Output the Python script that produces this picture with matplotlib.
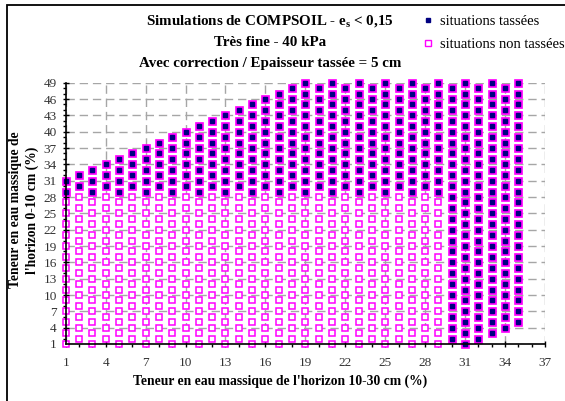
import matplotlib
matplotlib.use('Agg')
import matplotlib.pyplot as plt
from matplotlib.lines import Line2D
from matplotlib.patches import Rectangle

plt.rcParams['font.family'] = ['Liberation Serif', 'DejaVu Serif']

# one column of simulated points per value of the 10-30 cm water content
col_x = list(range(1, 36))
col_bottom = [1, 2, 1, 2, 1, 2, 1, 2, 1, 2, 1, 2, 1, 2, 1, 2, 1, 2,
              1, 2, 1, 2, 1, 2, 1, 2, 1, 2, 1, 2, 1, 2, 3, 4, 5]
col_top = [31, 32, 33, 34, 35, 36, 37, 38, 39, 40, 41, 42, 43, 44, 45, 46, 47, 48,
           49, 48, 49, 48, 49, 48, 49, 48, 49, 48, 49, 48, 49, 48, 49, 48, 49]
# first (lowest) point of each column that is "tassée"
col_first_tassee = [29, 30, 29, 30, 29, 30, 29, 30, 29, 30, 29, 30, 29, 30, 29, 30, 29, 30,
                    29, 30, 29, 30, 29, 30, 29, 30, 29, 30, 29, 2, 1, 2, 3, 4, 5]

x_ticks = list(range(1, 38, 3))
y_ticks = list(range(1, 50, 3))

tx, ty, nx, ny = [], [], [], []
for x, lo, hi, ft in zip(col_x, col_bottom, col_top, col_first_tassee):
    for y in range(lo, hi + 1, 2):
        if y >= ft:
            tx.append(x)
            ty.append(y)
        else:
            nx.append(x)
            ny.append(y)

fig = plt.figure(figsize=(5.65, 4.01), dpi=100)
ax = fig.add_axes([65.7 / 565, 1 - 344 / 401, (545 - 65.7) / 565, (344 - 82.7) / 401])

ax.plot(nx, ny, linestyle='none', marker='s', markersize=5, markerfacecolor='white',
        markeredgecolor='#ff00ff', markeredgewidth=1.1, clip_on=False, zorder=3)
ax.plot(tx, ty, linestyle='none', marker='s', markersize=5.4, markerfacecolor='#ff00ff',
        markeredgecolor='#ff00ff', markeredgewidth=0.5, clip_on=False, zorder=3)
ax.plot(tx, ty, linestyle='none', marker='s', markersize=2.6, color='#000080',
        clip_on=False, zorder=4)

ax.set_xlim(1, 37)
ax.set_ylim(1, 49)
ax.set_xticks(x_ticks)
ax.set_yticks(y_ticks)
ax.set_xticks(range(1, 38), minor=True)
ax.set_yticks(range(1, 50), minor=True)
ax.tick_params(which='major', direction='inout', length=5, width=1, labelsize=9.5,
               colors='black', labelcolor='#333333')
ax.tick_params(which='minor', direction='out', length=2.5, width=1, colors='black')
ax.tick_params(axis='x', which='major', pad=7)
ax.tick_params(axis='y', which='major', pad=4)

ax.grid(True, which='major', color='#a6a6a6', linestyle=(0, (6, 3.5)), linewidth=1)
ax.set_axisbelow(True)
for s in ['top', 'right']:
    ax.spines[s].set_visible(False)
for s in ['left', 'bottom']:
    ax.spines[s].set_linewidth(1.2)
    ax.spines[s].set_zorder(5)

# titles
fig.text(270 / 565, 1 - 22 / 401, 'Simulations de COMPSOIL - e$_\\mathregular{s}$ < 0,15',
         ha='center', va='center', fontsize=10.8, fontweight='bold')
fig.text(270 / 565, 1 - 43 / 401, 'Très fine - 40 kPa',
         ha='center', va='center', fontsize=10.8, fontweight='bold')
fig.text(270 / 565, 1 - 64 / 401, 'Avec correction / Epaisseur tassée = 5 cm',
         ha='center', va='center', fontsize=10.8, fontweight='bold')

fig.text(280 / 565, 1 - 381 / 401, "Teneur en eau massique de l'horizon 10-30 cm (%)",
         ha='center', va='center', fontsize=9.8, fontweight='bold')
fig.text(24 / 565, 1 - 210 / 401, "Teneur en eau massique de\nl'horizon 0-10 cm (%)",
         ha='center', va='center', rotation=90, fontsize=9.8, fontweight='bold',
         multialignment='center', linespacing=1.25)

handles = [
    Line2D([], [], linestyle='none', marker='s', markersize=2.6, color='#000080'),
    Line2D([], [], linestyle='none', marker='s', markersize=4.5, markerfacecolor='white',
           markeredgecolor='#ff00ff', markeredgewidth=1.0),
]
fig.legend(handles, ['situations tassées', 'situations non tassées'],
           loc='upper left', bbox_to_anchor=(424 / 565, 1 - 15 / 401), frameon=False,
           fontsize=10.5, handlelength=0.6, handletextpad=0.5, labelspacing=0.65,
           borderaxespad=0, borderpad=0)

fig.patches.append(Rectangle((7 / 565, -0.05), 1.1, 1 - 5 / 401 + 0.05,
                             transform=fig.transFigure, fill=False,
                             edgecolor='black', linewidth=1.3))

fig.savefig('out.png', dpi=100)
